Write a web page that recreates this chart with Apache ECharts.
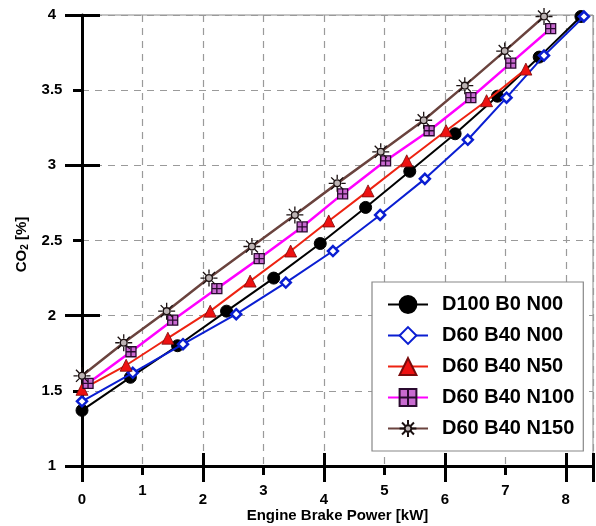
<!DOCTYPE html>
<html>
<head>
<meta charset="utf-8">
<script src="https://cdn.jsdelivr.net/npm/echarts@6/dist/echarts.min.js"></script>
<style>html,body{margin:0;padding:0;background:#fff;}#c{width:596px;height:526px;}</style>
</head>
<body>
<div id="c"></div>
<script>
// ---- data ----
const seriesNames = ['D100 B0 N00', 'D60 B40 N00', 'D60 B40 N50', 'D60 B40 N100', 'D60 B40 N150'];

const x_D100B0N00 = [0, 0.80, 1.58, 2.39, 3.17, 3.94, 4.69, 5.42, 6.17, 6.87, 7.56, 8.25];
const y_D100B0N00 = [1.37, 1.59, 1.80, 2.03, 2.25, 2.48, 2.72, 2.96, 3.21, 3.46, 3.72, 3.99];

const x_D60B40N00 = [0, 0.84, 1.67, 2.55, 3.37, 4.15, 4.93, 5.67, 6.38, 7.02, 7.64, 8.30];
const y_D60B40N00 = [1.43, 1.62, 1.81, 2.01, 2.22, 2.43, 2.67, 2.91, 3.17, 3.45, 3.73, 3.99];

const x_D60B40N50 = [0, 0.73, 1.42, 2.12, 2.78, 3.45, 4.08, 4.73, 5.37, 6.02, 6.69, 7.34];
const y_D60B40N50 = [1.51, 1.67, 1.85, 2.03, 2.23, 2.43, 2.63, 2.83, 3.03, 3.23, 3.43, 3.64];

const x_D60B40N100 = [0.10, 0.81, 1.50, 2.23, 2.93, 3.64, 4.31, 5.02, 5.74, 6.43, 7.09, 7.75];
const y_D60B40N100 = [1.55, 1.76, 1.97, 2.18, 2.38, 2.59, 2.81, 3.03, 3.23, 3.45, 3.68, 3.91];

const x_D60B40N150 = [0, 0.69, 1.40, 2.10, 2.81, 3.52, 4.22, 4.94, 5.65, 6.33, 6.99, 7.64];
const y_D60B40N150 = [1.60, 1.82, 2.03, 2.25, 2.46, 2.67, 2.88, 3.09, 3.30, 3.53, 3.76, 3.99];

const xTickLabels = ['0', '1', '2', '3', '4', '5', '6', '7', '8'];
const yTickLabels = ['1', '1.5', '2', '2.5', '3', '3.5', '4'];

const xName = 'Engine Brake Power [kW]';

// ---- build ----
function zip(xs, ys) { return xs.map((x, i) => [x, ys[i]]); }
const xs = [x_D100B0N00, x_D60B40N00, x_D60B40N50, x_D60B40N100, x_D60B40N150];
const ys = [y_D100B0N00, y_D60B40N00, y_D60B40N50, y_D60B40N100, y_D60B40N150];

const FONT = 'Liberation Sans, Arial, sans-serif';
const sunPath = 'path://M4,0A4,4 0 1,1 -4,0A4,4 0 1,1 4,0Z M0,-5L0,-10 M0,5L0,10 M5,0L10,0 M-5,0L-10,0 M3.6,3.6L7.1,7.1 M-3.6,-3.6L-7.1,-7.1 M3.6,-3.6L7.1,-7.1 M-3.6,3.6L-7.1,7.1';
const gridSq = 'path://M0,0L10,0L10,10L0,10Z M0,5L10,5 M5,0L5,10';

const styles = [
  { color: '#000000', symbol: 'circle', size: 12, itemColor: '#000', border: '#000', bw: 1, lw: 2 },
  { color: '#0a1ed2', symbol: 'diamond', size: 10, itemColor: '#ffffff', border: '#0a1ed2', bw: 2.5, lw: 2 },
  { color: '#ee2211', symbol: 'triangle', size: 12, itemColor: '#ee1111', border: '#7a0a0a', bw: 0.8, lw: 2 },
  { color: '#ff00ff', symbol: gridSq, size: 10, itemColor: '#c86ad0', border: '#2a0a30', bw: 1.3, lw: 2.5 },
  { color: '#6a433e', symbol: sunPath, size: 17, itemColor: '#bdb4b4', border: '#1a1010', bw: 1.3, lw: 2.5 }
];

const series = seriesNames.map((n, i) => ({
  name: n,
  type: 'line',
  xAxisIndex: 0,
  yAxisIndex: 0,
  data: zip(xs[i], ys[i]),
  symbol: styles[i].symbol,
  symbolSize: styles[i].size,
  showAllSymbol: true,
  lineStyle: { color: styles[i].color, width: styles[i].lw },
  itemStyle: { color: styles[i].itemColor, borderColor: styles[i].border, borderWidth: styles[i].bw },
  emphasis: { disabled: true },
  animation: false,
  z: 3 + i
}));

const labelStyle = { fontFamily: FONT, fontWeight: 'bold', fontSize: 15, color: '#000' };
const XMIN = 0, XMAX = 8.45;
function isInt(v) { return Math.abs(v - Math.round(v)) < 1e-6; }

const chart = echarts.init(document.getElementById('c'), null, { renderer: 'canvas' });
chart.setOption({
  animation: false,
  backgroundColor: '#ffffff',
  grid: { left: 82, right: 3, top: 15, bottom: 60, containLabel: false, outerBoundsMode: 'none',
          show: true, borderColor: '#8a8a8a', borderWidth: 1, backgroundColor: 'transparent' },
  legend: {
    orient: 'vertical',
    left: 372, top: 282,
    padding: [12, 9, 12, 15],
    itemWidth: 40, itemHeight: 21, itemGap: 10,
    backgroundColor: '#ffffff',
    borderColor: '#888', borderWidth: 1.2, borderRadius: 0,
    textStyle: { fontFamily: FONT, fontWeight: 'bold', fontSize: 20, color: '#000', lineHeight: 21, padding: [0, 0, 0, 9] },
    data: seriesNames,
    selectedMode: false
  },
  xAxis: [
    {
      type: 'value', position: 'bottom', min: XMIN, max: XMAX, interval: 1,
      name: xName, nameLocation: 'middle', nameGap: 42,
      nameTextStyle: { fontFamily: FONT, fontWeight: 'bold', fontSize: 15, color: '#000' },
      axisLine: { show: true, lineStyle: { color: '#000', width: 3 } },
      axisTick: { show: true, inside: false, length: 9, lineStyle: { color: '#000', width: 3 } },
      axisLabel: Object.assign({ margin: 17, showMaxLabel: false,
        formatter: v => (isInt(v) && Math.round(v) % 2 === 1) ? xTickLabels[Math.round(v)] : '' }, labelStyle),
      splitLine: { show: true, lineStyle: { color: '#9a9a9a', width: 1.2, type: [7, 6] } }
    },
    {
      type: 'value', position: 'bottom', min: XMIN, max: XMAX, interval: 2,
      axisLine: { show: false },
      axisTick: { show: true, inside: true, length: 13, lineStyle: { color: '#000', width: 3 } },
      axisLabel: { show: false },
      splitLine: { show: false }
    },
    {
      type: 'value', position: 'bottom', min: XMIN, max: XMAX, interval: 2,
      axisLine: { show: false },
      axisTick: { show: true, inside: false, length: 16, lineStyle: { color: '#000', width: 3 } },
      axisLabel: { show: false },
      splitLine: { show: false }
    },
    {
      type: 'value', position: 'bottom', offset: 9, min: XMIN, max: XMAX, interval: 2,
      axisLine: { show: false },
      axisTick: { show: false },
      axisLabel: Object.assign({ margin: 17, showMaxLabel: false,
        formatter: v => (isInt(v) && Math.round(v) % 2 === 0) ? xTickLabels[Math.round(v)] : '' }, labelStyle),
      splitLine: { show: false }
    }
  ],
  yAxis: [
    {
      type: 'value', position: 'left', min: 1, max: 4, interval: 0.5,
      name: '{a|CO}{b|2}{a| [%]}', nameLocation: 'middle', nameGap: 50, nameRotate: 90,
      nameTextStyle: { padding: [0, 8, 0, 0], rich: {
        a: { fontFamily: FONT, fontWeight: 'bold', fontSize: 15, color: '#000', lineHeight: 18 },
        b: { fontFamily: FONT, fontWeight: 'bold', fontSize: 10, color: '#000', lineHeight: 18, padding: [7, 0, 0, 0] }
      } },
      axisLine: { show: true, lineStyle: { color: '#000', width: 3 } },
      axisTick: { show: true, inside: false, length: 9, lineStyle: { color: '#000', width: 3 } },
      axisLabel: Object.assign({ margin: 30, align: 'center',
        formatter: v => { const i = Math.round((v - 1) / 0.5); return yTickLabels[i] !== undefined ? yTickLabels[i] : ''; } }, labelStyle),
      splitLine: { show: true, lineStyle: { color: '#9a9a9a', width: 1.2, type: [7, 6] } }
    },
    {
      type: 'value', position: 'left', min: 1, max: 4, interval: 1,
      axisLine: { show: false },
      axisTick: { show: true, inside: true, length: 18, lineStyle: { color: '#000', width: 3 } },
      axisLabel: { show: false },
      splitLine: { show: false }
    },
    {
      type: 'value', position: 'left', min: 1, max: 4, interval: 1,
      axisLine: { show: false },
      axisTick: { show: true, inside: false, length: 17, lineStyle: { color: '#000', width: 3 } },
      axisLabel: { show: false },
      splitLine: { show: false }
    }
  ],
  series: series
});
</script>
</body>
</html>
